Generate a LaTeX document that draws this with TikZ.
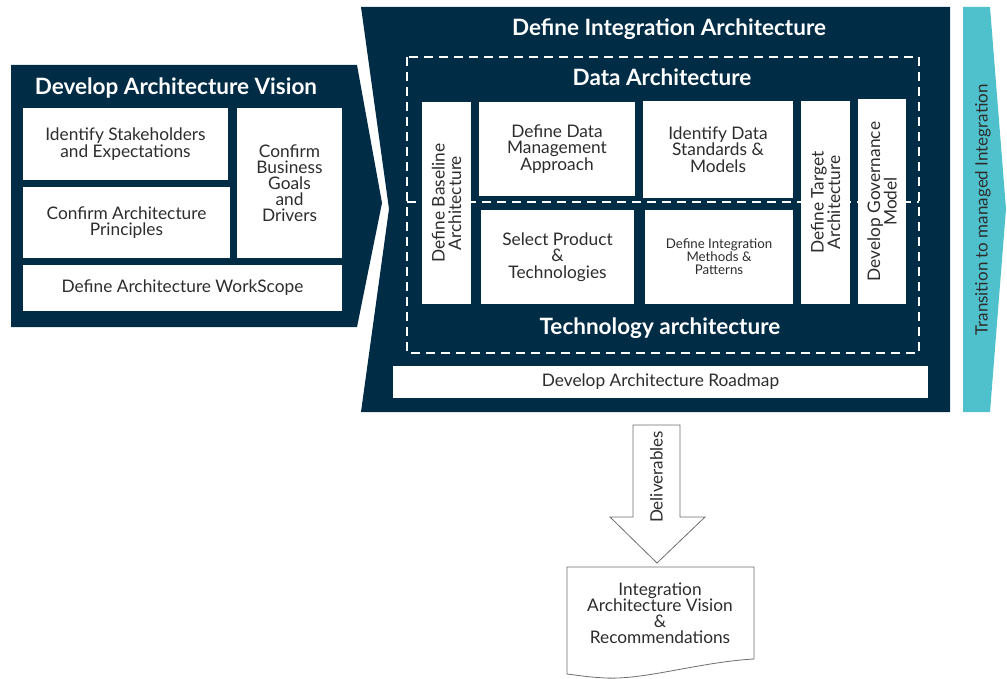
\documentclass[tikz,border=0pt]{standalone}
\usepackage{fontspec}
\setmainfont{Lato}
\definecolor{navy}{RGB}{1,44,70}
\definecolor{aqua}{RGB}{79,193,204}
\definecolor{ink}{RGB}{45,45,45}
\definecolor{edge}{RGB}{110,110,110}

\begin{document}
\begin{tikzpicture}[x=1pt,y=-1pt,
  card/.style={fill=white, draw=none, inner sep=0pt, align=center, text=ink,
               font=\fontsize{17.3}{16.5}\selectfont},
  smallcard/.style={card, font=\fontsize{13.3}{13}\selectfont},
  upright/.style={rotate=90},
  heading/.style={text=white, font=\bfseries\fontsize{22.5}{24}\selectfont, inner sep=0pt},
  border/.style={draw=white, line width=2pt, dash pattern=on 9pt off 6pt},
  outline/.style={draw=edge, fill=white, line width=0.8pt}
]
\useasboundingbox (0,0) rectangle (1007,679);

% --- panels ---
\fill[navy] (11,65) -- (357,65) -- (382,203) -- (357,327) -- (11,327) -- cycle;
\fill[navy] (361,7) -- (950,7) -- (950,412) -- (361,412) -- (389,209) -- cycle;
\fill[aqua] (963,7) -- (990,7) -- (1006,209) -- (990,412) -- (963,412) -- cycle;

% --- vision phase ---
\node[heading] (vision) at (176,88) {Develop Architecture Vision};
\node[card, minimum width=205, minimum height=72] (stake) at (125.5,144)
  {Identify Stakeholders\\and Expectations};
\node[card, minimum width=207, minimum height=71] (princ) at (126.5,222.5)
  {Confirm Architecture\\Principles};
\node[card, minimum width=105, minimum height=150, font=\fontsize{17.3}{16}\selectfont] (goals) at (289.5,183)
  {Confirm\\Business\\Goals\\and\\Drivers};
\node[card, minimum width=319, minimum height=46] (scope) at (182.5,288)
  {Define Architecture WorkScope};

% --- integration phase ---
\node[heading] (integ) at (669,29) {Define Integration Architecture};
\draw[border] (407,57) rectangle (919,353);
\draw[border] (407,202) -- (919,202);
\node[heading] (data) at (662,77) {Data Architecture};
\node[heading] (tech) at (660,328) {Technology architecture};

\node[card, upright, minimum width=202, minimum height=49] (base) at (446.5,203)
  {Define Baseline\\Architecture};
\node[card, minimum width=156, minimum height=94] (mgmt) at (557,149)
  {Define Data\\Management\\Approach};
\node[card, minimum width=150, minimum height=97] (std) at (718,149.5)
  {Identify Data\\Standards \&\\Models};
\node[card, minimum width=153, minimum height=94] (prod) at (557.5,257)
  {Select Product\\\&\\Technologies};
\node[smallcard, minimum width=148, minimum height=94] (meth) at (719,257)
  {Define Integration\\Methods \&\\Patterns};
\node[card, upright, minimum width=203, minimum height=49] (target) at (825.5,202.5)
  {Define Target\\Architecture};
\node[card, upright, minimum width=205, minimum height=48] (gov) at (882,201.5)
  {Develop Governance\\Model};
\node[card, minimum width=535, minimum height=32] (road) at (660.5,382)
  {Develop Architecture Roadmap};

% --- transition ---
\node[upright, text=ink, font=\fontsize{17}{16}\selectfont, inner sep=0pt] (trans) at (983,210)
  {Transition to managed Integration};

% --- deliverables ---
\draw[outline] (633,425) -- (680,425) -- (680,517) -- (705,517) -- (657,563)
  -- (610,517) -- (633,517) -- cycle;
\node[upright, text=ink, font=\fontsize{17}{16}\selectfont, inner sep=0pt] (deliv) at (656.5,477)
  {Deliverables};
\draw[outline] (567,567) -- (754,567) -- (754,659)
  .. controls (700,662) and (645,680) .. (605,678)
  .. controls (590,677) .. (567,674) -- cycle;
\node[card, fill=none, font=\fontsize{17.3}{16}\selectfont] (doc) at (660,613)
  {Integration\\Architecture Vision\\\&\\Recommendations};
\end{tikzpicture}
\end{document}
